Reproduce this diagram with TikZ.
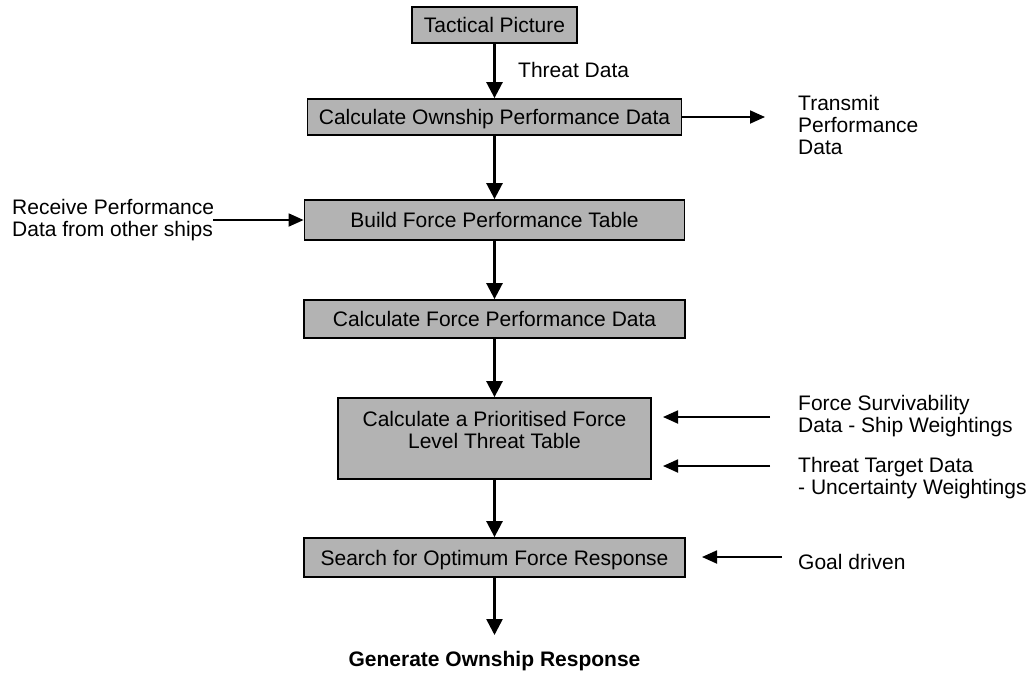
\documentclass[tikz,border=0pt]{standalone}
\usepackage{fontspec}
\setmainfont{Liberation Sans}
\usetikzlibrary{arrows.meta}
\definecolor{boxgray}{RGB}{179,179,179}
\begin{document}
\begin{tikzpicture}[x=1pt,y=-1pt,
  every node/.style={font=\fontsize{21}{22}\selectfont, inner sep=0pt},
  stage/.style={draw=black, line width=1.8pt, fill=boxgray,
    text height=15pt, text depth=0pt},
  flow/.style={line width=2.6pt, -{Triangle[length=16pt,width=16pt]}},
  feed/.style={line width=1.8pt, -{Triangle[length=15pt,width=13pt]}},
  note/.style={align=left, anchor=north west}]
\useasboundingbox (0,0) rectangle (1031,673);

% process stages
\node[stage, minimum width=165pt, minimum height=36pt] (tac) at (494.5,25) {Tactical Picture};
\node[stage, minimum width=374pt, minimum height=36pt] (own) at (494.5,117) {Calculate Ownship Performance Data};
\node[stage, minimum width=380pt, minimum height=40pt] (build) at (494.5,220) {Build Force Performance Table};
\node[stage, minimum width=381pt, minimum height=38pt] (calc) at (494.5,319) {Calculate Force Performance Data};
\node[stage, minimum width=313pt, minimum height=81pt] (prio) at (494.5,438.5) {};
\node[align=center] (priotext) at (494.5,430) {Calculate a Prioritised Force\\Level Threat Table};
\node[stage, minimum width=381pt, minimum height=39pt] (search) at (494.5,557.5) {Search for Optimum Force Response};

% inputs and outputs
\node[anchor=base west] (threat) at (518,77.5) {Threat Data};
\node[note] (tx) at (798,95.5) {Transmit\\Performance\\Data};
\node[note] (rx) at (12,199.5) {Receive Performance\\Data from other ships};
\node[note] (fs) at (798,395.5) {Force Survivability\\Data - Ship Weightings};
\node[note] (tt) at (798,457.5) {Threat Target Data\\- Uncertainty Weightings};
\node[anchor=base west] (goal) at (798,569.5) {Goal driven};
\node[anchor=base, font=\fontsize{21}{22}\selectfont\bfseries] (gen) at (494.5,666) {Generate Ownship Response};

% free arrow ends
\coordinate (txend) at (765,117);
\coordinate (rxstart) at (213,220);
\coordinate (fsA) at (770,417);
\coordinate (fsB) at (663,417);
\coordinate (ttA) at (770,466);
\coordinate (ttB) at (663,466);
\coordinate (goA) at (782,557);
\coordinate (goB) at (702,557);
\coordinate (genend) at (494.5,635);

% main flow
\draw[flow] (tac) -- (own);
\draw[flow] (own) -- (build);
\draw[flow] (build) -- (calc);
\draw[flow] (calc) -- (prio);
\draw[flow] (prio) -- (search);
\draw[flow] (search) -- (genend);

% side flows
\draw[feed] (own.east) -- (txend);
\draw[feed] (rxstart) -- (build.west);
\draw[feed] (fsA) -- (fsB);
\draw[feed] (ttA) -- (ttB);
\draw[feed] (goA) -- (goB);
\end{tikzpicture}
\end{document}
